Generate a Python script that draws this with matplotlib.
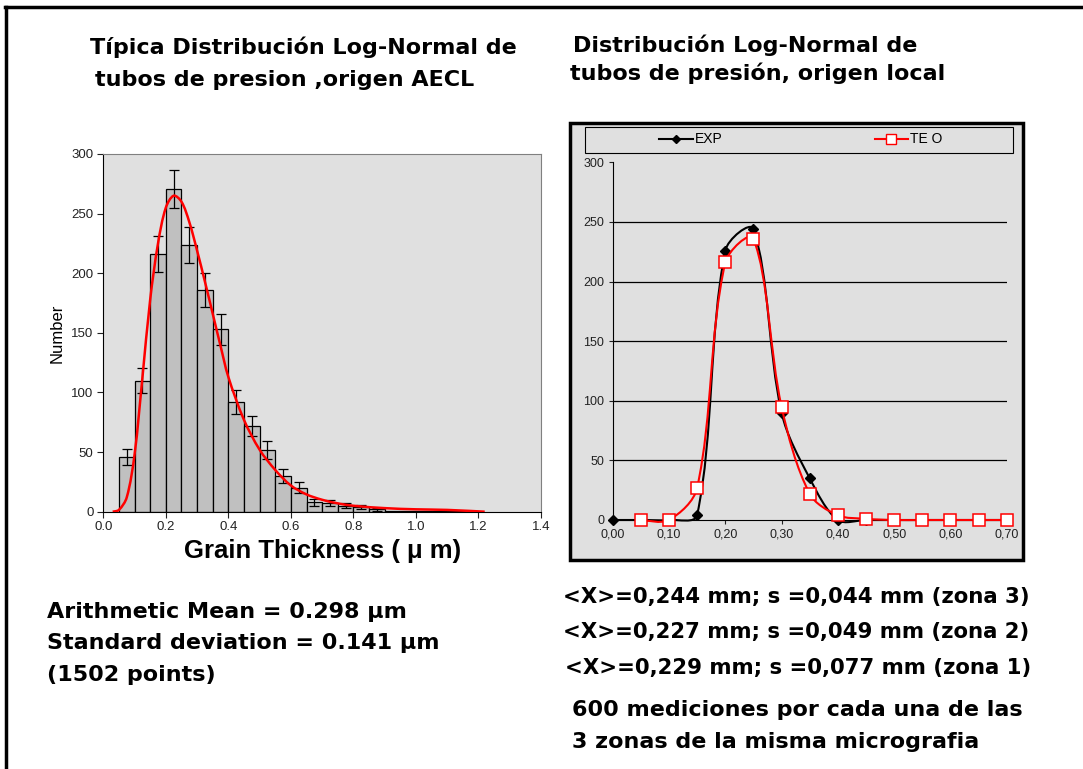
import numpy as np
import matplotlib
matplotlib.use("Agg")
import matplotlib.pyplot as plt
from matplotlib.path import Path
from matplotlib.patches import PathPatch, Rectangle
from matplotlib.lines import Line2D

plt.rcParams['font.family'] = ['Liberation Sans', 'DejaVu Sans']

# left chart: histogram (bin left edges, width 0.05)
bin_left = [0.05, 0.10, 0.15, 0.20, 0.25, 0.30, 0.35, 0.40, 0.45, 0.50, 0.55, 0.60,
            0.65, 0.70, 0.75, 0.80, 0.85, 0.90, 0.95, 1.00, 1.05, 1.10, 1.15]
counts = [46, 110, 216, 271, 224, 186, 153, 92, 72, 52, 30, 20,
          8, 7, 5, 4, 2, 1, 1, 1, 1, 1, 1]
errors = [7, 10.5, 15, 16, 15, 14, 13, 10, 8.5, 7.5, 6, 4.5,
          3, 2.5, 2, 2, 1.5, 0, 0, 0, 0, 0, 0]

# fitted log-normal curve
fit_x = [0.03, 0.05, 0.075, 0.10, 0.125, 0.15, 0.175, 0.20, 0.225, 0.25, 0.275, 0.30,
         0.325, 0.35, 0.375, 0.40, 0.45, 0.50, 0.55, 0.60, 0.65, 0.70, 0.75, 0.80,
         0.90, 1.00, 1.10, 1.22]
fit_y = [0, 1.5, 12, 48, 112, 178, 225, 255, 265, 260, 243, 219,
         193, 166, 139, 113, 77, 52, 35, 22, 14.5, 10, 7, 5,
         3, 2, 1.5, 0]

# right chart
exp_x = [0.00, 0.05, 0.10, 0.15, 0.20, 0.25, 0.30, 0.35, 0.40, 0.45, 0.50, 0.55, 0.60, 0.65, 0.70]
exp_y = [0, 0, 0, 4, 226, 244, 90, 35, 0, 0, 0, 0, 0, 0, 0]
teo_x = [0.05, 0.10, 0.15, 0.20, 0.25, 0.30, 0.35, 0.40, 0.45, 0.50, 0.55, 0.60, 0.65, 0.70]
teo_y = [0, 0, 27, 216, 236, 95, 22, 4, 1, 0, 0, 0, 0, 0]
right_xticks = [0.0, 0.1, 0.2, 0.3, 0.4, 0.5, 0.6, 0.7]
right_xlabels = ['0,00', '0,10', '0,20', '0,30', '0,40', '0,50', '0,60', '0,70']

W, H = 1083, 769
fig = plt.figure(figsize=(W / 100, H / 100), dpi=100)


def box(l, t, r, b):
    return [l / W, 1 - b / H, (r - l) / W, (b - t) / H]


def fx(x):
    return x / W


def fy(y):
    return 1 - y / H


def smooth_path(ax, xs, ys):
    # Excel-like smoothed line: cubic Bezier with tangents scaled by
    # on-screen segment lengths (keeps overshoot small on short segments)
    fig.canvas.draw()
    pts = ax.transData.transform(np.column_stack([xs, ys]).astype(float))
    n = len(pts)
    tang = []
    for i in range(n):
        p0 = pts[max(i - 1, 0)]
        p2 = pts[min(i + 1, n - 1)]
        tang.append(p2 - p0)
    verts = [pts[0]]
    codes = [Path.MOVETO]
    for i in range(n - 1):
        p1, p2 = pts[i], pts[i + 1]
        seg = np.hypot(*(p2 - p1))
        prev = np.hypot(*(p1 - pts[i - 1])) if i > 0 else seg
        nxt = np.hypot(*(pts[i + 2] - p2)) if i + 2 < n else seg
        f1 = seg / (seg + prev) / 3.0 if seg + prev > 0 else 0
        f2 = seg / (seg + nxt) / 3.0 if seg + nxt > 0 else 0
        c1 = p1 + tang[i] * f1
        c2 = p2 - tang[i + 1] * f2
        verts += [c1, c2, p2]
        codes += [Path.CURVE4] * 3
    verts = ax.transData.inverted().transform(np.array(verts))
    return Path(verts, codes)


# outer page border (top and left)
fig.add_artist(Line2D([fx(5), fx(1083)], [fy(7), fy(7)], color='black', lw=2.5))
fig.add_artist(Line2D([fx(6), fx(6)], [fy(7), fy(769)], color='black', lw=2.5))

# ---------------- left chart ----------------
ax1 = fig.add_axes(box(103.3, 154, 541, 511.7))
ax1.set_facecolor('#e0e0e0')
ax1.bar(bin_left, counts, width=0.05, align='edge', color='#c0c0c0',
        edgecolor='black', linewidth=0.9, zorder=2)
centers = [b + 0.025 for b in bin_left]
ax1.errorbar(centers[:17], counts[:17], yerr=errors[:17], fmt='none', ecolor='black',
             elinewidth=0.9, capsize=3.5, capthick=0.9, zorder=3)
ax1.set_xlim(0, 1.4)
ax1.set_ylim(0, 300)
ax1.add_patch(PathPatch(smooth_path(ax1, fit_x, fit_y), fill=False,
                        edgecolor='#ff0000', lw=1.8, zorder=4))
ax1.set_xticks([0.0, 0.2, 0.4, 0.6, 0.8, 1.0, 1.2, 1.4])
ax1.set_xticklabels(['0.0', '0.2', '0.4', '0.6', '0.8', '1.0', '1.2', '1.4'])
ax1.set_yticks([0, 50, 100, 150, 200, 250, 300])
ax1.tick_params(labelsize=9.5, length=4, width=0.8, colors='#222222', pad=3)
for s in ['top', 'right']:
    ax1.spines[s].set_color('#808080')
for s in ['left', 'bottom']:
    ax1.spines[s].set_color('black')
ax1.set_ylabel('Number', fontsize=12, labelpad=5)
ax1.set_xlabel('Grain Thickness ( \u03bc m)', fontsize=18.5, fontweight='bold', labelpad=4)

# ---------------- right chart ----------------
fig.add_artist(Rectangle((fx(570), fy(560)), (1023 - 570) / W, (560 - 123) / H,
                         facecolor='#e0e0e0', edgecolor='black', lw=2.5,
                         transform=fig.transFigure, zorder=0))
fig.add_artist(Rectangle((fx(585), fy(153)), (1013 - 585) / W, (153 - 127) / H,
                         facecolor='none', edgecolor='black', lw=0.8,
                         transform=fig.transFigure, zorder=1))
# legend entries
fig.add_artist(Line2D([fx(659), fx(693)], [fy(139), fy(139)], color='black', lw=1.5))
fig.add_artist(Line2D([fx(676)], [fy(139)], color='black', marker='D', markersize=4.5))
fig.text(fx(695), fy(139), 'EXP', fontsize=10, va='center', ha='left')
fig.add_artist(Line2D([fx(875), fx(908)], [fy(139), fy(139)], color='#ff0000', lw=1.5))
fig.add_artist(Line2D([fx(891)], [fy(139)], color='#ff0000', marker='s', markersize=6.5,
                      markerfacecolor='white', markeredgecolor='#ff0000', markeredgewidth=1))
fig.text(fx(910), fy(139), 'TE O', fontsize=10, va='center', ha='left')

ax2 = fig.add_axes(box(612.7, 162.3, 1006.7, 520))
ax2.set_facecolor('none')
ax2.set_xlim(0, 0.70)
ax2.set_ylim(0, 300)
for yv in [50, 100, 150, 200, 250]:
    ax2.axhline(yv, color='black', lw=0.9, zorder=1)
ax2.add_patch(PathPatch(smooth_path(ax2, exp_x, exp_y), fill=False, edgecolor='black',
                        lw=1.5, zorder=3, clip_on=False))
ax2.plot(exp_x, exp_y, linestyle='none', marker='D', markersize=5, color='black',
         zorder=4, clip_on=False)
ax2.add_patch(PathPatch(smooth_path(ax2, teo_x, teo_y), fill=False, edgecolor='#ff0000',
                        lw=1.5, zorder=5, clip_on=False))
ax2.plot(teo_x, teo_y, linestyle='none', marker='s', markersize=8.5,
         markerfacecolor='white', markeredgecolor='#ff0000', markeredgewidth=1.1,
         zorder=6, clip_on=False)
ax2.set_xticks(right_xticks)
ax2.set_xticklabels(right_xlabels)
ax2.set_yticks([0, 50, 100, 150, 200, 250, 300])
ax2.tick_params(labelsize=9, length=3, width=0.8, pad=3, colors='#222222')
for s in ['top', 'right']:
    ax2.spines[s].set_visible(False)
ax2.spines['left'].set_linewidth(0.8)
ax2.spines['bottom'].set_linewidth(0.8)

# ---------------- texts ----------------
tkw = dict(fontsize=16, fontweight='bold', va='center', ha='left', family='DejaVu Sans')
fig.text(fx(90), fy(47), 'T\u00edpica Distribuci\u00f3n Log-Normal de', **tkw)
fig.text(fx(95), fy(80), 'tubos de presion ,origen AECL', **tkw)
fig.text(fx(573), fy(45), 'Distribuci\u00f3n Log-Normal de', **tkw)
fig.text(fx(570), fy(73), 'tubos de presi\u00f3n, origen local', **tkw)

fig.text(fx(47), fy(612), 'Arithmetic Mean = 0.298 \u03bcm', **tkw)
fig.text(fx(47), fy(643), 'Standard deviation = 0.141 \u03bcm', **tkw)
fig.text(fx(47), fy(675), '(1502 points)', **tkw)

zkw = dict(tkw, fontsize=15.3)
fig.text(fx(563), fy(597), '<X>=0,244 mm; s =0,044 mm (zona 3)', **zkw)
fig.text(fx(563), fy(632), '<X>=0,227 mm; s =0,049 mm (zona 2)', **zkw)
fig.text(fx(565), fy(668), '<X>=0,229 mm; s =0,077 mm (zona 1)', **zkw)
fig.text(fx(572), fy(710), '600 mediciones por cada una de las', **tkw)
fig.text(fx(572), fy(742), '3 zonas de la misma micrografia', **tkw)

fig.savefig('out.png', dpi=100)
